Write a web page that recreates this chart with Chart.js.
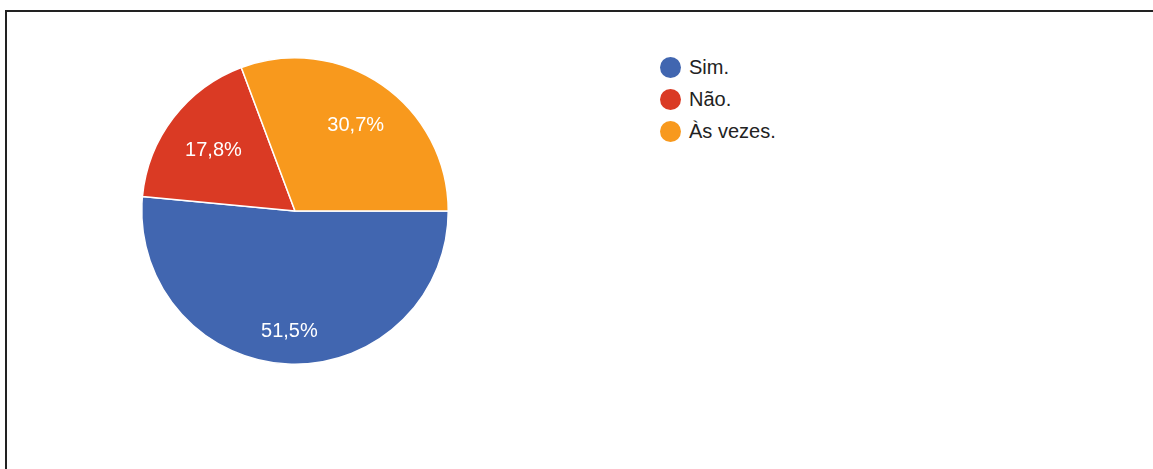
<!DOCTYPE html>
<html>
<head>
<meta charset="utf-8">
<script src="https://cdn.jsdelivr.net/npm/chart.js@4/dist/chart.umd.min.js"></script>
<style>
  html,body{margin:0;padding:0;background:#fff;}
  body{width:1153px;height:469px;position:relative;overflow:hidden;font-family:"Liberation Sans",Arial,sans-serif;}
  #frame{position:absolute;left:5px;top:10px;right:-10px;bottom:-10px;border-top:2px solid #222;border-left:2px solid #222;}
  #pieBox{position:absolute;left:131px;top:47px;width:328px;height:328px;}
  #legend{position:absolute;left:660px;top:51px;list-style:none;margin:0;padding:0;}
  #legend li{height:32px;display:flex;align-items:center;font-size:20px;color:#222;margin-top:-5px;padding-top:5px;}
  #legend .dot{width:21px;height:21px;border-radius:50%;margin-right:8px;flex:none;}
</style>
</head>
<body>
<div id="frame"></div>
<div id="pieBox"><canvas id="pieChart"></canvas></div>
<ul id="legend"></ul>
<script>
const labels = ['Sim.', 'Não.', 'Às vezes.'];
const shares = [51.5, 17.8, 30.7];
const colors = ['#4166b0', '#da3a24', '#f8991d'];

// percent text inside each slice, pushed out until the box corner meets 0.85 r
const sliceText = {
  id: 'sliceText',
  afterDatasetsDraw(chart){
    const ctx = chart.ctx;
    const meta = chart.getDatasetMeta(0);
    ctx.save();
    ctx.font = '20px "Liberation Sans", Arial, sans-serif';
    ctx.fillStyle = '#fff';
    ctx.textAlign = 'center';
    ctx.textBaseline = 'alphabetic';
    meta.data.forEach((arc, i) => {
      const p = arc.getProps(['x','y','startAngle','endAngle','outerRadius'], true);
      const txt = shares[i].toFixed(1).replace('.', ',') + '%';
      const w = ctx.measureText(txt).width, h = 15;
      const mid = (p.startAngle + p.endAngle) / 2;
      const c = Math.cos(mid), s = Math.sin(mid);
      const a = Math.sign(c) * w / 2, b = Math.sign(s) * h / 2;
      const R = p.outerRadius * 0.85;
      const k = c * a + s * b;
      const d = -k + Math.sqrt(k * k - (a * a + b * b - R * R));
      ctx.fillText(txt, p.x + d * c, p.y + d * s + h / 2);
    });
    ctx.restore();
  }
};

new Chart(document.getElementById('pieChart'), {
  type: 'pie',
  data: {
    labels: labels,
    datasets: [{data: shares, backgroundColor: colors, borderColor: '#fff', borderWidth: 1.5}]
  },
  options: {
    responsive: true,
    maintainAspectRatio: false,
    animation: false,
    rotation: 90,
    layout: {padding: 10},
    plugins: {legend: {display: false}, tooltip: {enabled: false}}
  },
  plugins: [sliceText]
});

const legend = document.getElementById('legend');
labels.forEach((l, i) => {
  const li = document.createElement('li');
  li.innerHTML = `<span class="dot" style="background:${colors[i]}"></span><span>${l}</span>`;
  legend.appendChild(li);
});
</script>
</body>
</html>
